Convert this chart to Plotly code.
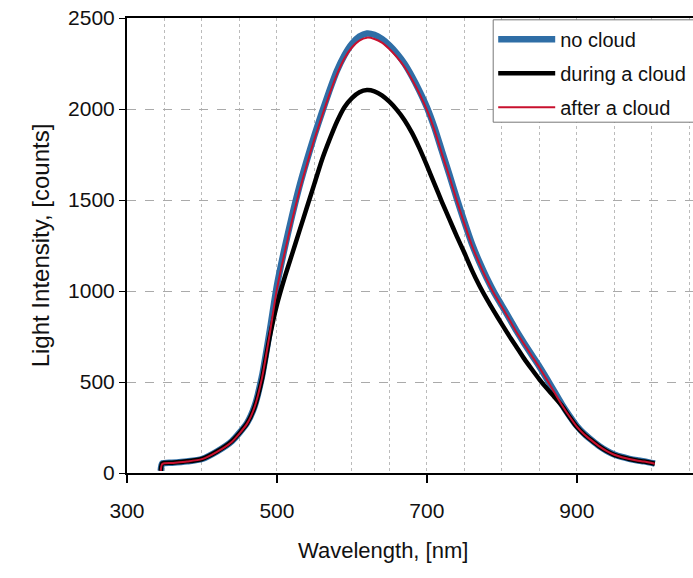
import plotly.graph_objects as go

wavelength_nm = [345, 347, 360, 380, 400, 420, 440, 460, 470, 480, 490, 500, 510, 520, 530, 540,
                 550, 560, 570, 580, 590, 600, 610, 620, 630, 640, 650, 660, 670, 680, 690, 700,
                 710, 720, 730, 740, 750, 760, 770, 780, 790, 800, 810, 820, 830, 840, 850, 860,
                 870, 880, 890, 900, 910, 920, 930, 940, 950, 960, 970, 980, 990, 1004]

no_cloud = [12, 52, 56, 64, 77, 118, 175, 274, 365, 530, 770, 1030, 1230, 1410, 1575, 1720,
            1855, 1980, 2100, 2210, 2295, 2358, 2398, 2415, 2408, 2385, 2350, 2305, 2250, 2180, 2100, 2010,
            1900, 1770, 1640, 1507, 1380, 1260, 1160, 1070, 990, 920, 850, 778, 712, 648, 585, 518,
            448, 378, 315, 258, 215, 180, 148, 122, 102, 88, 78, 70, 64, 52]

during_cloud = [12, 52, 56, 64, 77, 118, 175, 272, 360, 515, 740, 925, 1070, 1200, 1330, 1460,
                1590, 1720, 1830, 1930, 2010, 2060, 2092, 2104, 2097, 2075, 2040, 1995, 1940, 1870, 1785, 1690,
                1590, 1490, 1395, 1300, 1210, 1115, 1030, 955, 885, 818, 752, 690, 627, 570, 515, 465,
                418, 370, 310, 254, 212, 178, 146, 120, 100, 87, 77, 69, 63, 51]

after_cloud = [12, 50, 55, 63, 76, 116, 172, 270, 360, 520, 755, 1010, 1205, 1385, 1550, 1697,
               1835, 1960, 2080, 2190, 2278, 2338, 2376, 2392, 2385, 2365, 2330, 2285, 2232, 2163, 2085, 1995,
               1885, 1755, 1628, 1495, 1370, 1250, 1152, 1062, 982, 913, 843, 771, 706, 643, 580, 513,
               444, 374, 312, 255, 212, 178, 146, 120, 100, 87, 77, 69, 63, 51]

series_names = ["no cloud", "during a cloud", "after a cloud"]
x_tick_vals = [300, 500, 700, 900]
y_tick_vals = [0, 500, 1000, 1500, 2000, 2500]

FONT = "Arial, Liberation Sans, sans-serif"

fig = go.Figure()
styles = [("#2f6ea6", 6.5), ("#000000", 4.5), ("#c8102e", 2)]
for name, vals, (col, w) in zip(series_names, [no_cloud, during_cloud, after_cloud], styles):
    fig.add_trace(go.Scatter(
        x=wavelength_nm, y=vals, mode="lines", name=name, legendgroup=name,
        line=dict(color=col, width=w, shape="spline", smoothing=0.6),
    ))

# legend frame (extends past the right edge, as in the cropped original)
fig.add_shape(type="rect", xref="paper", yref="paper", x0=0.647, x1=1.2, y0=0.771, y1=0.996,
              fillcolor="white", line=dict(color="#777777", width=1), layer="above")

fig.add_annotation(text="Wavelength, [nm]", xref="paper", yref="paper", x=0.452, y=-0.171,
                   xanchor="center", yanchor="middle", showarrow=False,
                   font=dict(size=22, family=FONT, color="#111111"))

fig.update_layout(
    width=693, height=578,
    margin=dict(l=127, r=0, t=18, b=105, autoexpand=False),
    paper_bgcolor="white", plot_bgcolor="white",
    font=dict(family=FONT, color="#111111", size=20),
    showlegend=True,
    legend=dict(
        x=0.647, y=0.996, xanchor="left", yanchor="top",
        bgcolor="rgba(0,0,0,0)", borderwidth=0,
        font=dict(family=FONT, size=20, color="#111111"),
        itemwidth=57, tracegroupgap=5, traceorder="grouped",
    ),
)

fig.update_xaxes(
    range=[300, 1055], tickmode="array", tickvals=x_tick_vals,
    ticks="outside", ticklen=8, tickwidth=2, tickcolor="black",
    showline=True, linecolor="black", linewidth=2, mirror=True,
    showgrid=True, gridcolor="#bbbbbb", griddash="dot", gridwidth=1,
    minor=dict(dtick=50, tick0=300, showgrid=True, gridcolor="#bbbbbb", griddash="dot", gridwidth=1),
    zeroline=False, ticklabelstandoff=10,
    tickfont=dict(size=21, family=FONT),
)
fig.update_yaxes(
    range=[0, 2500], tickmode="array", tickvals=y_tick_vals,
    ticks="outside", ticklen=6, tickwidth=1, tickcolor="black",
    showline=True, linecolor="black", linewidth=2,
    showgrid=True, gridcolor="#aaaaaa", griddash="dash", gridwidth=1,
    zeroline=False,
    tickfont=dict(size=21, family=FONT),
    title=dict(text="Light Intensity, [counts]", font=dict(size=24, family=FONT), standoff=12),
)

fig.write_html("out.html")
